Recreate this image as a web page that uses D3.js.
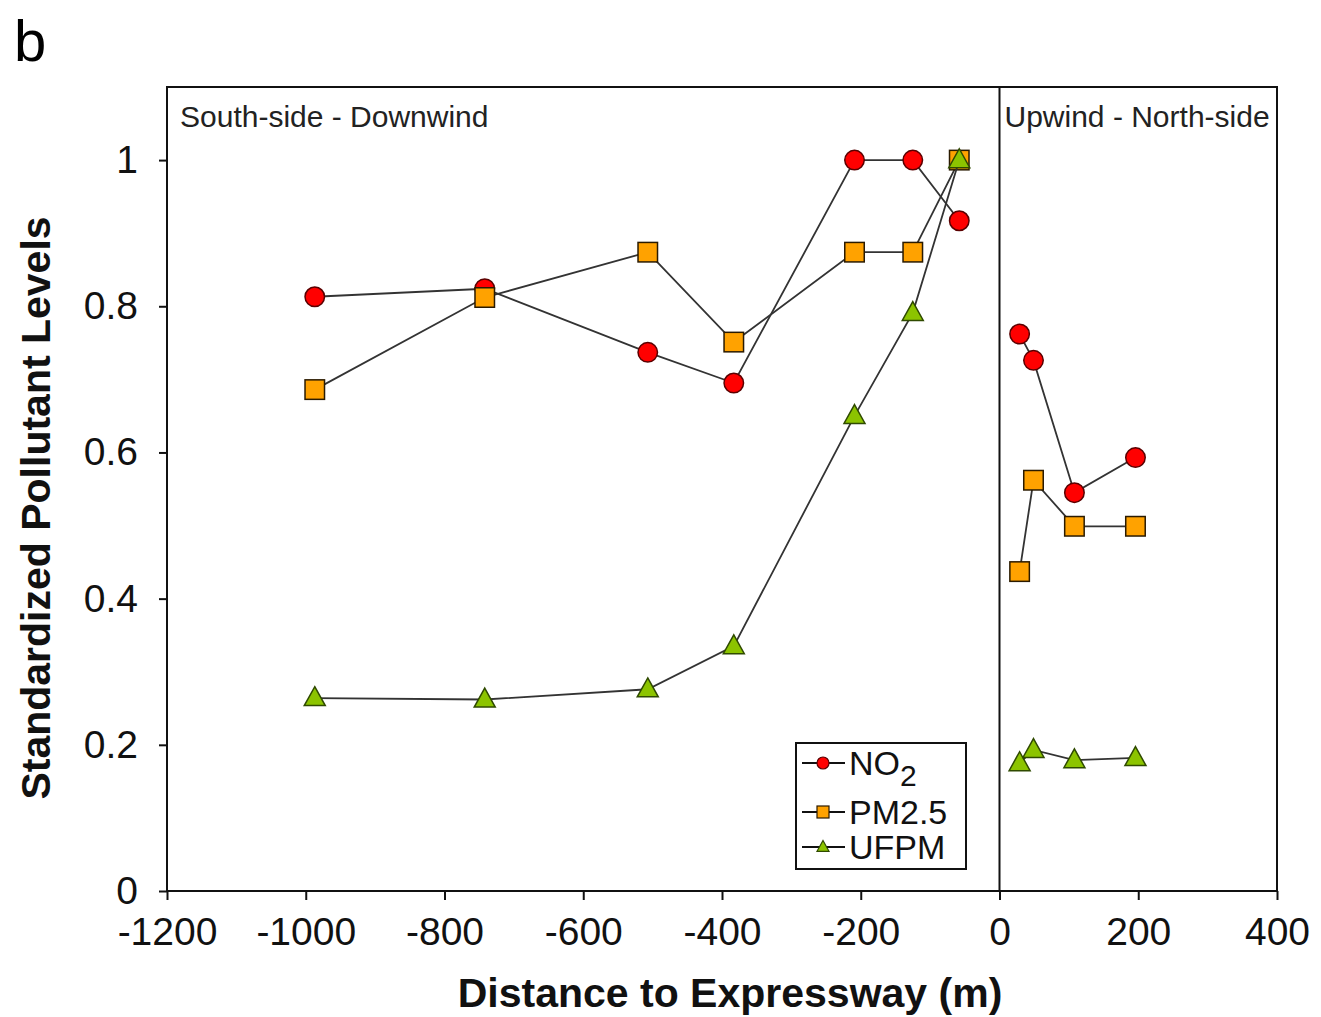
<!DOCTYPE html>
<html>
<head>
<meta charset="utf-8">
<script src="https://cdn.jsdelivr.net/npm/d3@7"></script>
<style>
  body { margin: 0; background: #fff; }
  svg { font-family: "Liberation Sans", Arial, sans-serif; }
</style>
</head>
<body>
<div id="chart"></div>
<script>
// distances (m) of the sampling sites, south (downwind) and north (upwind) of the road
const southDist = [-987, -742, -507, -383, -209, -125, -58];
const northDist = [29, 49, 108, 196];

// standardized levels
const no2South = [0.813, 0.824, 0.737, 0.695, 1.0, 1.0, 0.917];
const no2North = [0.762, 0.726, 0.545, 0.593];
const pmSouth = [0.686, 0.812, 0.874, 0.751, 0.874, 0.874, 1.0];
const pmNorth = [0.437, 0.562, 0.499, 0.499];
const ufpSouth = [0.264, 0.262, 0.276, 0.335, 0.650, 0.791, 1.0];
const ufpNorth = [0.175, 0.193, 0.179, 0.182];

const xTicks = [-1200, -1000, -800, -600, -400, -200, 0, 200, 400];
const yTicks = [0, 0.2, 0.4, 0.6, 0.8, 1];

const series = [
  { name: "NO2", shape: "circle", fill: "#ff0000", stroke: "#5a0000", south: no2South, north: no2North },
  { name: "PM2.5", shape: "square", fill: "#ffa200", stroke: "#2a1a00", south: pmSouth, north: pmNorth },
  { name: "UFPM", shape: "triangle", fill: "#8cc400", stroke: "#2f4a00", south: ufpSouth, north: ufpNorth }
];

const width = 1321, height = 1017;
const margin = { top: 87, right: 44, bottom: 126, left: 167 };
const innerW = width - margin.left - margin.right;
const innerH = height - margin.top - margin.bottom;

const svg = d3.select("#chart").append("svg")
  .attr("width", width)
  .attr("height", height);

svg.append("text")
  .attr("x", 14)
  .attr("y", 61)
  .attr("font-size", "58px")
  .text("b");

const g = svg.append("g")
  .attr("transform", `translate(${margin.left},${margin.top})`);

const x = d3.scaleLinear().domain([-1200, 400]).range([0, innerW]);
const y = d3.scaleLinear().domain([0, 1.1]).range([innerH, 0]);

// axes
const xAxis = g.append("g")
  .attr("transform", `translate(0,${innerH})`)
  .call(d3.axisBottom(x).tickValues(xTicks).tickFormat(d => String(d)).tickSize(9).tickPadding(17));
const yAxis = g.append("g")
  .call(d3.axisLeft(y).tickValues(yTicks).tickFormat(d => String(d)).tickSize(8).tickPadding(21));

[xAxis, yAxis].forEach(ax => {
  ax.select(".domain").remove();
  ax.selectAll("line").attr("stroke", "#111").attr("stroke-width", 2);
  ax.selectAll("text").attr("font-size", "39px").attr("fill", "#111");
});

// frame and the divider at the expressway
g.append("rect")
  .attr("width", innerW)
  .attr("height", innerH)
  .attr("fill", "none")
  .attr("stroke", "#111")
  .attr("stroke-width", 2);
g.append("line")
  .attr("x1", x(0)).attr("x2", x(0))
  .attr("y1", 0).attr("y2", innerH)
  .attr("stroke", "#111")
  .attr("stroke-width", 2);

g.append("text")
  .attr("x", 13).attr("y", 40)
  .attr("font-size", "30px")
  .attr("fill", "#222")
  .text("South-side - Downwind");
g.append("text")
  .attr("x", x(0) + 5).attr("y", 40)
  .attr("font-size", "30px")
  .attr("fill", "#222")
  .text("Upwind - North-side");

// axis titles
svg.append("text")
  .attr("x", 730)
  .attr("y", 1007)
  .attr("text-anchor", "middle")
  .attr("font-size", "41px")
  .attr("font-weight", "bold")
  .attr("fill", "#111")
  .text("Distance to Expressway (m)");
svg.append("text")
  .attr("transform", "translate(50,508) rotate(-90)")
  .attr("text-anchor", "middle")
  .attr("font-size", "41px")
  .attr("font-weight", "bold")
  .attr("fill", "#111")
  .text("Standardized Pollutant Levels");

function drawMarker(sel, shape, size) {
  if (shape === "circle") {
    sel.append("circle").attr("r", size / 2);
  } else if (shape === "square") {
    sel.append("rect")
      .attr("x", -size / 2).attr("y", -size / 2)
      .attr("width", size).attr("height", size);
  } else {
    const h = size * 0.9;
    sel.append("path")
      .attr("d", `M0,${-h * 0.6}L${size / 2},${h * 0.4}L${-size / 2},${h * 0.4}Z`);
  }
}

const line = d3.line().x(d => x(d[0])).y(d => y(d[1]));

series.forEach(s => {
  const segs = [
    southDist.map((d, i) => [d, s.south[i]]),
    northDist.map((d, i) => [d, s.north[i]])
  ];
  const sg = g.append("g");
  segs.forEach(seg => {
    sg.append("path")
      .attr("d", line(seg))
      .attr("fill", "none")
      .attr("stroke", "#333")
      .attr("stroke-width", 1.8);
  });
  segs.forEach(seg => {
    seg.forEach(p => {
      const m = sg.append("g")
        .attr("transform", `translate(${x(p[0])},${y(p[1])})`)
        .attr("fill", s.fill)
        .attr("stroke", s.stroke)
        .attr("stroke-width", 1.5);
      drawMarker(m, s.shape, s.shape === "triangle" ? 21 : 19.5);
    });
  });
});

// legend
const lg = svg.append("g").attr("transform", "translate(796,743)");
lg.append("rect")
  .attr("width", 170).attr("height", 126)
  .attr("fill", "#fff")
  .attr("stroke", "#111")
  .attr("stroke-width", 2);
const rowY = [20, 69, 104];
series.forEach((s, i) => {
  const row = lg.append("g").attr("transform", `translate(0,${rowY[i]})`);
  row.append("line")
    .attr("x1", 6).attr("x2", 49)
    .attr("stroke", "#111")
    .attr("stroke-width", 1.8);
  const m = row.append("g")
    .attr("transform", "translate(27,0)")
    .attr("fill", s.fill)
    .attr("stroke", s.stroke)
    .attr("stroke-width", 1.2);
  drawMarker(m, s.shape, 12);
  const t = row.append("text")
    .attr("x", 53).attr("y", 12)
    .attr("font-size", "34px")
    .attr("fill", "#111");
  if (s.name === "NO2") {
    t.text("NO");
    t.append("tspan").attr("dy", 11).attr("font-size", "30px").text("2");
  } else {
    t.text(s.name);
  }
});
</script>
</body>
</html>
